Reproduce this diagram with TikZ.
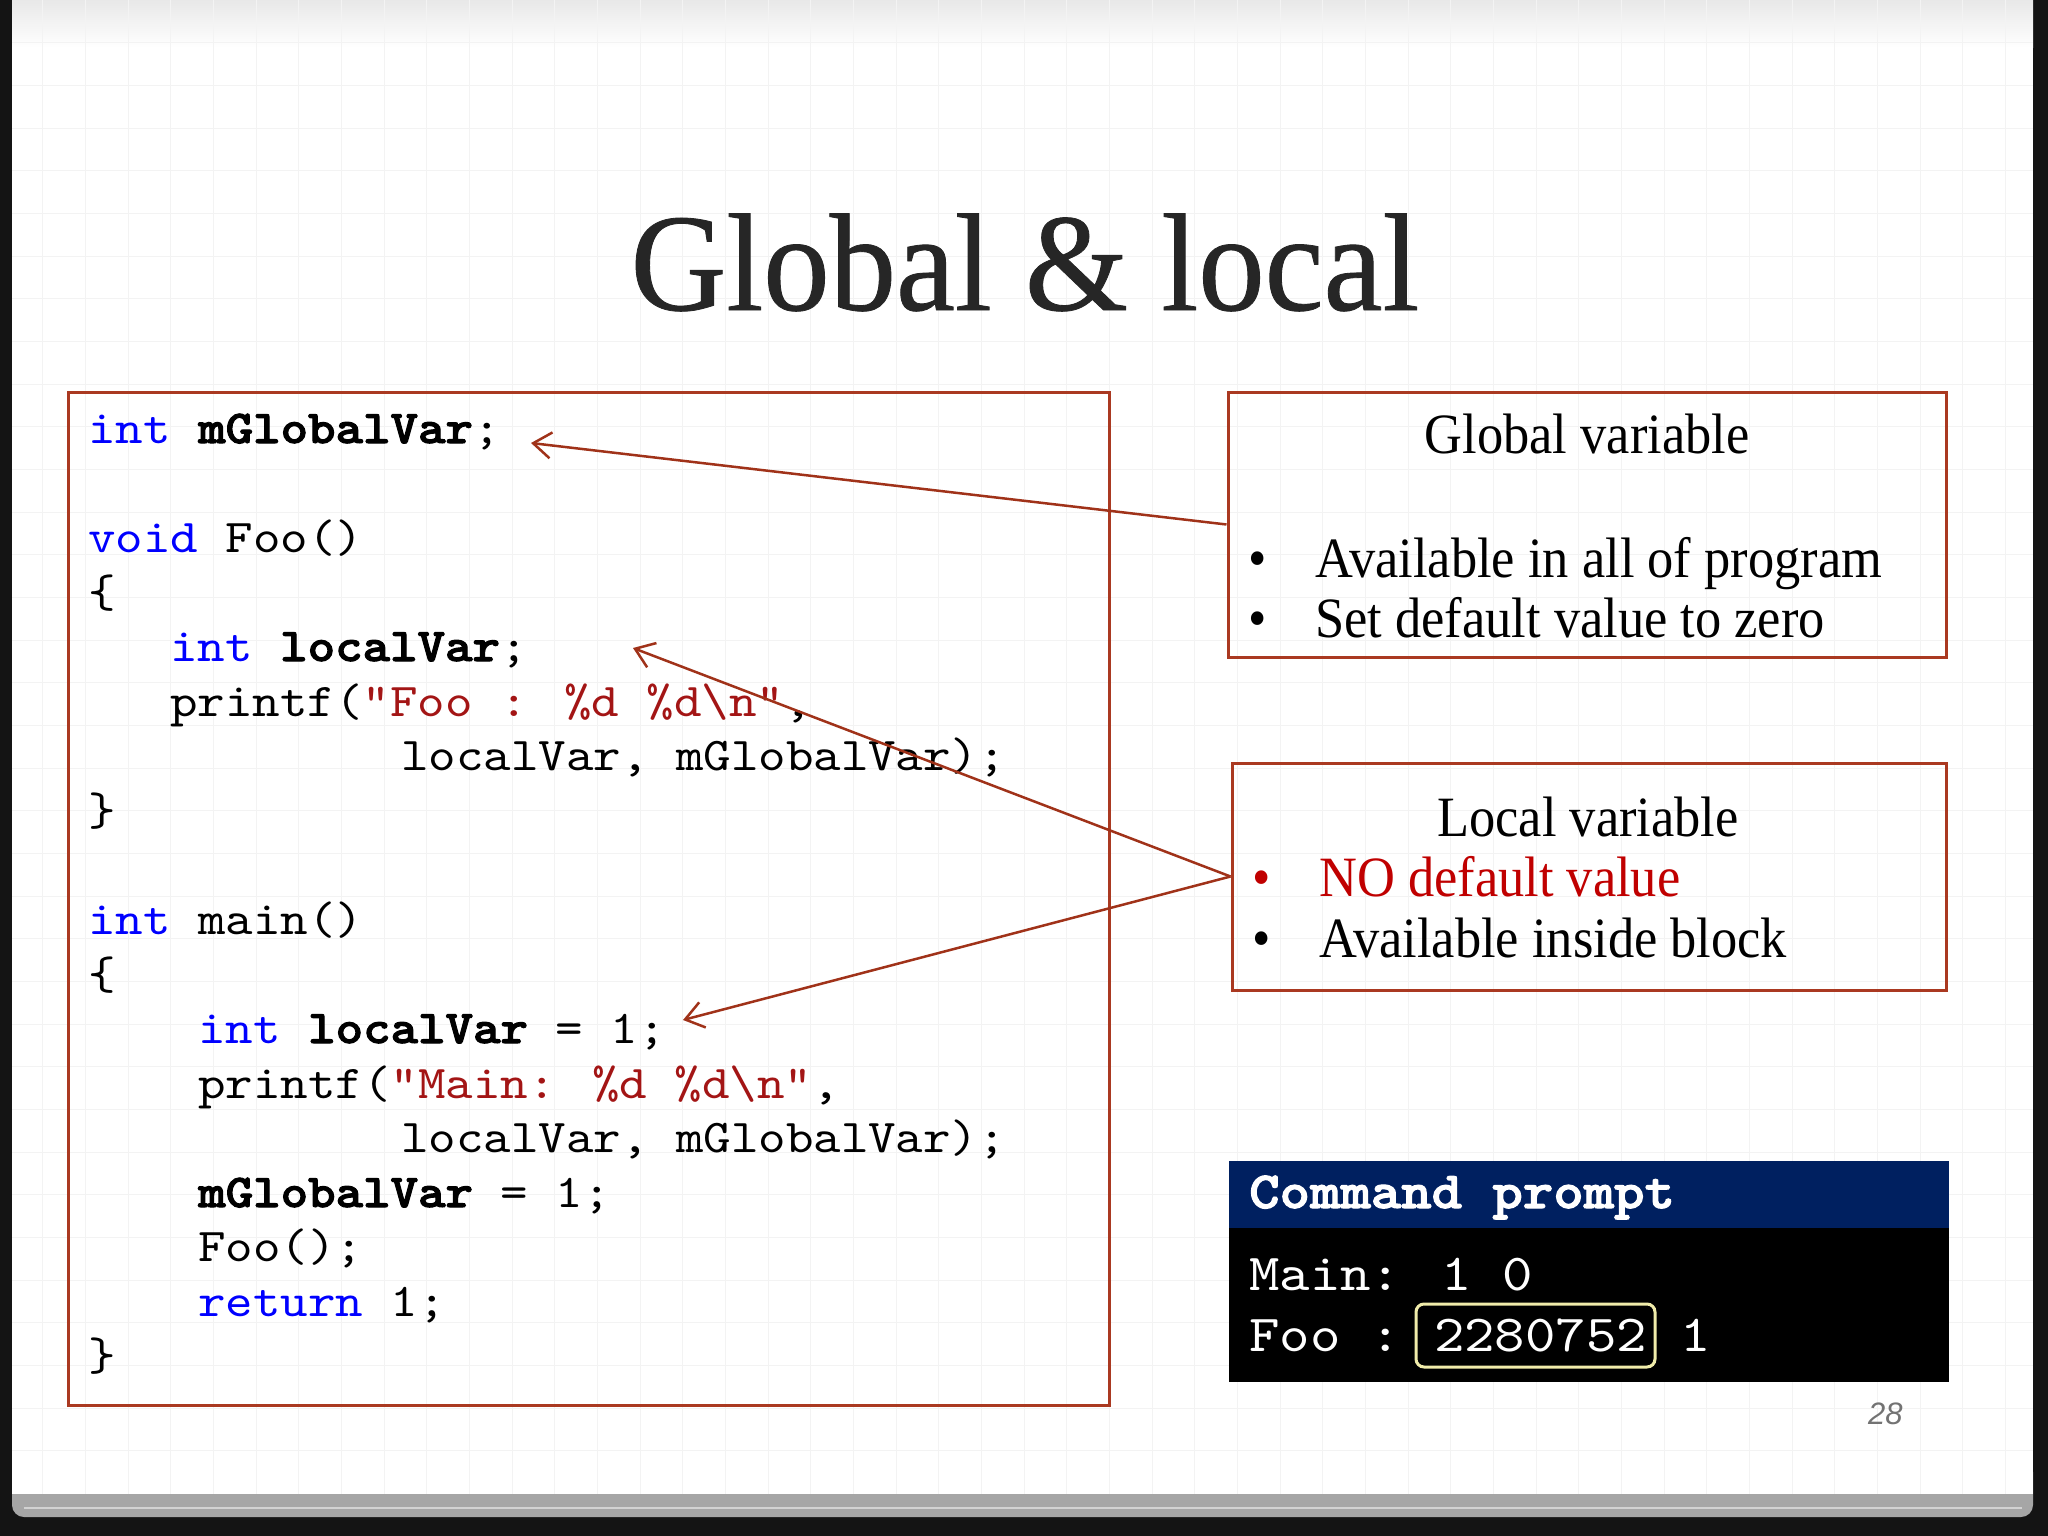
\documentclass[tikz,border=0pt]{standalone}
\usepackage{fontspec}
\usetikzlibrary{arrows.meta}
\newfontfamily\titlefont[FakeStretch=0.955, FakeBold=0.6]{Liberation Serif}
\newfontfamily\bodyfont[FakeStretch=0.92]{Liberation Serif}
\newfontfamily\codefont[FakeStretch=1.114, BoldFont=lmmonolt10-bold.otf, BoldFeatures={FakeStretch=1.114, FakeBold=2.2}]{lmmono10-regular.otf}
\newfontfamily\pagefont{Liberation Sans}
\definecolor{boxred}{RGB}{170,57,33}
\definecolor{arrred}{RGB}{160,50,25}
\definecolor{kwblue}{RGB}{0,0,255}
\definecolor{strred}{RGB}{163,21,21}
\definecolor{navy}{RGB}{0,32,96}
\definecolor{nored}{RGB}{192,0,0}
\definecolor{titlegray}{RGB}{38,38,38}
\definecolor{valbox}{RGB}{240,236,170}
\definecolor{gridc}{RGB}{243,243,243}
\newcommand{\kw}[1]{\textcolor{kwblue}{#1}}
\newcommand{\st}[1]{\textcolor{strred}{#1}}
\begin{document}
\begin{tikzpicture}[x=1pt,y=-1pt,
  codeline/.style={anchor=base west, inner sep=0pt, text=black, font=\codefont\fontsize{47}{55}\selectfont},
  cmdline/.style={anchor=base west, inner sep=0pt, text=white, font=\codefont\fontsize{52}{60}\selectfont},
  boxframe/.style={draw=boxred, line width=3pt, fill=none, inner sep=0pt},
  bodytext/.style={inner sep=0pt, text=black, font=\bodyfont\fontsize{57}{68}\selectfont},
  bul/.style={bodytext, anchor=base},
  pointer/.style={draw=arrred, line width=2.5pt, -{Straight Barb[length=18pt,width=26pt]}}
]
\useasboundingbox (0,0) rectangle (2048,1536);
% frame and page
\fill[black!92] (0,0) rectangle (2048,1536);
\fill[gray!70, rounded corners=12pt] (12,1460) rectangle (2033,1517);
\draw[gray!35, line width=2pt] (24,1508) -- (2022,1508);
\fill[white] (12,0) rectangle (2033,1494);
\shade[top color=black!9, bottom color=white] (12,0) rectangle (2033,48);
% faint grid
\foreach \i in {1,...,47} {\draw[gridc, line width=1pt] (\i*42.67,0) -- (\i*42.67,1494);}
\foreach \j in {1,...,34} {\draw[gridc, line width=1pt] (12,\j*42.67) -- (2033,\j*42.67);}

% title
\node[anchor=base, inner sep=0pt, text=titlegray, font=\titlefont\fontsize{139}{160}\selectfont] (title) at (1025,310) {Global \& local};

% code box
\node[boxframe, minimum width=1041pt, minimum height=1013pt] (codebox) at (588.5,898.5) {};
\node[codeline] (c0) at (88,443) {\kw{int} \textbf{mGlobalVar};};
\node[codeline] (c2) at (88,552) {\kw{void} Foo()};
\node[codeline] (c3) at (88,607) {\{};
\node[codeline] (c4) at (170,661) {\kw{int} \textbf{localVar};};
\node[codeline] (c5) at (170,716) {printf(\st{"Foo : \%d \%d\textbackslash n"},};
\node[codeline] (c6) at (401,770) {localVar, mGlobalVar);};
\node[codeline] (c7) at (88,825) {\}};
\node[codeline] (c9) at (88,934) {\kw{int} main()};
\node[codeline] (c10) at (88,989) {\{};
\node[codeline] (c11) at (198,1043) {\kw{int} \textbf{localVar} = 1;};
\node[codeline] (c12) at (198,1098) {printf(\st{"Main: \%d \%d\textbackslash n"},};
\node[codeline] (c13) at (401,1152) {localVar, mGlobalVar);};
\node[codeline] (c14) at (198,1207) {\textbf{mGlobalVar} = 1;};
\node[codeline] (c15) at (198,1261) {Foo();};
\node[codeline] (c16) at (198,1316) {\kw{return} 1;};
\node[codeline] (c17) at (88,1370) {\}};

% global box
\node[boxframe, minimum width=718pt, minimum height=265pt] (global) at (1587,524.5) {};
\node[bodytext, anchor=base] (gtitle) at (1587,453) {Global variable};
\node[bul] (gb1) at (1258,577) {\textbullet};
\node[bodytext, anchor=base west] (gt1) at (1315,577) {Available in all of program};
\node[bul] (gb2) at (1258,637) {\textbullet};
\node[bodytext, anchor=base west] (gt2) at (1315,637) {Set default value to zero};

% local box
\node[boxframe, minimum width=714pt, minimum height=227pt] (local) at (1589,876.5) {};
\node[bodytext, anchor=base] (ltitle) at (1588,836) {Local variable};
\node[bul, text=nored] (lb1) at (1262,896) {\textbullet};
\node[bodytext, anchor=base west, text=nored] (lt1) at (1319,896) {NO default value};
\node[bul] (lb2) at (1262,957) {\textbullet};
\node[bodytext, anchor=base west] (lt2) at (1319,957) {Available inside block};

% arrows
\coordinate (gtip) at (531,443);
\coordinate (ltip1) at (633,648);
\coordinate (ltip2) at (683,1020);
\draw[pointer] (global.west) -- (gtip);
\draw[pointer] (local.west) -- (ltip1);
\draw[pointer] (local.west) -- (ltip2);

% command prompt
\node[fill=navy, inner sep=0pt, minimum width=720pt, minimum height=67pt, anchor=north west] (cmdhead) at (1229,1161) {};
\node[fill=black, inner sep=0pt, minimum width=720pt, minimum height=154pt, anchor=north west] (cmdbody) at (1229,1228) {};
\node[cmdline, font=\codefont\bfseries\fontsize{52}{60}\selectfont] (cmdtitle) at (1249,1208) {Command prompt};
\node[cmdline] (cmain) at (1249,1290) {Main: 1 0};
\node[cmdline] (cfoo) at (1249,1351) {Foo :};
\node[cmdline] (cval) at (1433.8,1351) {2280752};
\node[cmdline] (cone) at (1680,1351) {1};
\draw[valbox, line width=3pt, rounded corners=8pt] (1416,1304) rectangle (1655,1367);

% page number
\node[anchor=base west, inner sep=0pt, text=black!55, font=\pagefont\itshape\fontsize{31}{36}\selectfont] (pagenum) at (1868,1424) {28};
\end{tikzpicture}
\end{document}
